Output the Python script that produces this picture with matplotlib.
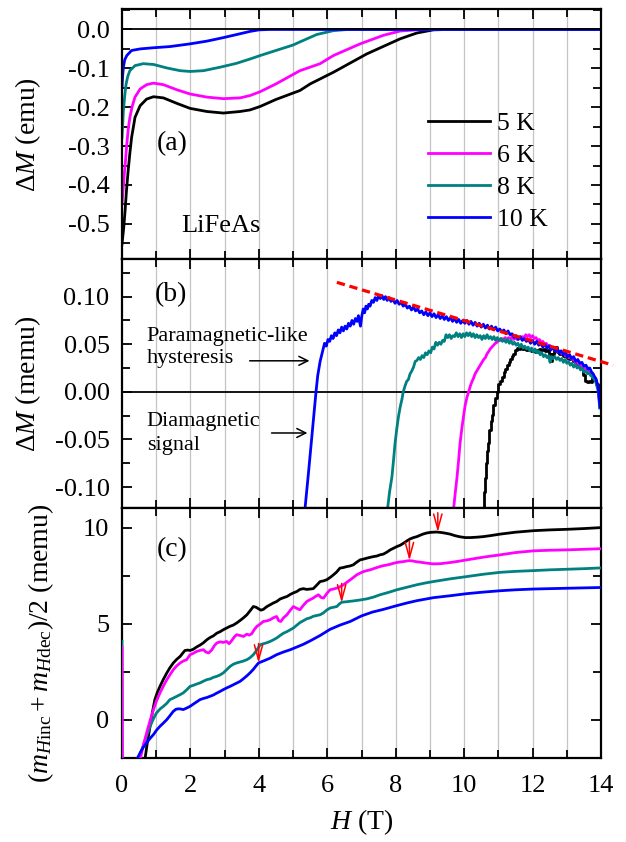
import matplotlib
matplotlib.use('Agg')
import matplotlib.pyplot as plt
from matplotlib.ticker import MultipleLocator

plt.rcParams['font.family'] = ['Liberation Serif', 'DejaVu Serif']
plt.rcParams['mathtext.fontset'] = 'custom'
plt.rcParams['mathtext.rm'] = 'Liberation Serif'
plt.rcParams['mathtext.it'] = 'Liberation Serif:italic'
plt.rcParams['mathtext.bf'] = 'Liberation Serif:bold'

# ---------------- data ----------------
temps = ['5 K', '6 K', '8 K', '10 K']
colors = ['#000000', '#FF00FF', '#008080', '#0000FF']

# panel (a): Delta M (emu) vs H (T)
H_a_5 = [0, 0.05, 0.09, 0.13, 0.18, 0.23, 0.28, 0.38, 0.53, 0.72, 0.92, 1.21, 1.6, 1.99, 2.48, 2.96,
         3.45, 3.74, 4.04, 4.5, 5.2, 5.5, 6.18, 7.15, 8.13, 8.62, 9.1, 9.5, 14]
M_a_5 = [-0.552, -0.51, -0.466, -0.415, -0.363, -0.318, -0.278, -0.226, -0.196, -0.179, -0.173, -0.176,
         -0.19, -0.203, -0.211, -0.215, -0.211, -0.207, -0.198, -0.18, -0.157, -0.14, -0.11, -0.063,
         -0.024, -0.009, -0.001, 0, 0]
H_a_6 = [0, 0.03, 0.06, 0.1, 0.14, 0.18, 0.23, 0.3, 0.38, 0.53, 0.72, 0.92, 1.21, 1.6, 1.99, 2.48, 2.96,
         3.45, 3.74, 4.04, 4.5, 5.2, 5.79, 6.18, 6.96, 7.64, 8.13, 8.6, 9.2, 14]
M_a_6 = [-0.449, -0.415, -0.38, -0.34, -0.295, -0.258, -0.226, -0.197, -0.174, -0.153, -0.142, -0.138,
         -0.142, -0.155, -0.166, -0.174, -0.178, -0.176, -0.170, -0.160, -0.14, -0.106, -0.088, -0.067,
         -0.037, -0.015, -0.004, -0.001, 0, 0]
H_a_8 = [0, 0.02, 0.04, 0.08, 0.12, 0.17, 0.23, 0.38, 0.62, 0.92, 1.31, 1.7, 1.99, 2.38, 2.87, 3.35,
         3.74, 4.04, 4.5, 5.0, 5.2, 5.69, 6.18, 6.6, 14]
M_a_8 = [-0.278, -0.245, -0.209, -0.17, -0.14, -0.12, -0.106, -0.093, -0.088, -0.09, -0.099, -0.106,
         -0.108, -0.106, -0.097, -0.087, -0.076, -0.067, -0.054, -0.040, -0.032, -0.013, -0.003, 0, 0]
H_a_10 = [0, 0.02, 0.04, 0.08, 0.14, 0.28, 0.53, 0.92, 1.4, 1.99, 2.48, 2.96, 3.45, 3.74, 4.0, 4.3, 14]
M_a_10 = [-0.149, -0.118, -0.097, -0.078, -0.067, -0.054, -0.05, -0.047, -0.044, -0.037, -0.030, -0.021,
          -0.011, -0.005, -0.001, 0, 0]

# panel (b): Delta M (memu) vs H (T), (H, M) pairs
b_10 = [(5.35,-0.122),(5.45,-0.085),(5.55,-0.046),(5.62,-0.019),(5.67,0.000),(5.72,0.017),(5.79,0.032),
        (5.86,0.042),(5.92,0.051),(5.97,0.048),(6.02,0.055),(6.07,0.053),(6.12,0.059),(6.17,0.056),
        (6.22,0.062),(6.27,0.059),(6.32,0.065),(6.37,0.062),(6.42,0.068),(6.47,0.064),(6.52,0.069),
        (6.57,0.066),(6.62,0.072),(6.67,0.069),(6.72,0.075),(6.77,0.071),(6.82,0.077),(6.87,0.074),
        (6.91,0.080),(6.94,0.074),(6.97,0.069),(7.01,0.080),(7.05,0.087),(7.09,0.083),(7.13,0.090),
        (7.17,0.087),(7.21,0.092),(7.25,0.090),(7.30,0.096),(7.35,0.094),(7.40,0.099),(7.45,0.096),
        (7.50,0.101),(7.55,0.098),(7.60,0.101),(7.65,0.097),(7.70,0.100),(7.75,0.096),(7.80,0.099),
        (7.86,0.095),(7.92,0.097),(7.98,0.093),(8.04,0.096),(8.10,0.092),(8.16,0.094),(8.22,0.090),
        (8.28,0.092),(8.34,0.088),(8.40,0.090),(8.46,0.086),(8.52,0.089),(8.58,0.085),(8.64,0.087),
        (8.70,0.083),(8.76,0.085),(8.82,0.081),(8.88,0.084),(8.94,0.080),(9.00,0.083),(9.06,0.079),
        (9.12,0.082),(9.18,0.078),(9.24,0.081),(9.30,0.077),(9.36,0.080),(9.42,0.076),(9.48,0.079),
        (9.54,0.075),(9.60,0.078),(9.66,0.074),(9.72,0.077),(9.78,0.073),(9.84,0.076),(9.90,0.072),
        (9.96,0.075),(10.02,0.072),(10.08,0.075),(10.14,0.071),(10.20,0.074),(10.26,0.070),(10.32,0.073),
        (10.38,0.069),(10.44,0.072),(10.50,0.068),(10.56,0.071),(10.62,0.067),(10.68,0.070),(10.74,0.066),
        (10.80,0.069),(10.86,0.065),(10.92,0.068),(10.98,0.064),(11.04,0.066),(11.10,0.063),(11.16,0.065),
        (11.22,0.061),(11.28,0.064),(11.34,0.060),(11.40,0.061),(11.46,0.057),(11.52,0.059),(11.58,0.055),
        (11.64,0.058),(11.70,0.054),(11.76,0.056),(11.82,0.053),(11.88,0.055),(11.94,0.051),(12.00,0.054),
        (12.06,0.050),(12.12,0.053),(12.18,0.049),(12.24,0.051),(12.30,0.047),(12.36,0.050),(12.42,0.046),
        (12.48,0.048),(12.54,0.044),(12.60,0.047),(12.66,0.043),(12.72,0.045),(12.78,0.041),(12.84,0.043),
        (12.90,0.039),(12.96,0.041),(13.02,0.037),(13.08,0.039),(13.14,0.035),(13.20,0.037),(13.26,0.032),
        (13.32,0.034),(13.38,0.030),(13.44,0.031),(13.50,0.027),(13.56,0.028),(13.62,0.024),(13.67,0.025),
        (13.72,0.021),(13.77,0.019),(13.81,0.016),(13.85,0.014),(13.88,0.010),(13.91,0.006),(13.93,0.001),
        (13.95,-0.008),(13.97,-0.016)]
b_8 = [(7.76,-0.123),(7.82,-0.105),(7.89,-0.089),(7.94,-0.070),(7.98,-0.054),(8.03,-0.039),(8.08,-0.026),
       (8.13,-0.016),(8.18,-0.008),(8.22,0.000),(8.27,0.006),(8.32,0.011),(8.37,0.013),(8.42,0.019),
       (8.47,0.022),(8.52,0.026),(8.57,0.032),(8.62,0.033),(8.67,0.036),(8.72,0.034),(8.77,0.038),
       (8.82,0.036),(8.87,0.041),(8.92,0.039),(8.97,0.043),(9.02,0.041),(9.07,0.047),(9.12,0.045),
       (9.17,0.052),(9.22,0.049),(9.27,0.052),(9.32,0.050),(9.37,0.054),(9.42,0.053),(9.47,0.060),
       (9.52,0.057),(9.57,0.060),(9.62,0.056),(9.67,0.059),(9.72,0.058),(9.77,0.062),(9.82,0.058),
       (9.87,0.061),(9.92,0.057),(9.97,0.061),(10.02,0.058),(10.07,0.062),(10.12,0.059),(10.17,0.062),
       (10.22,0.058),(10.27,0.061),(10.32,0.057),(10.37,0.060),(10.42,0.057),(10.47,0.059),(10.52,0.055),
       (10.57,0.059),(10.62,0.056),(10.67,0.060),(10.72,0.056),(10.77,0.058),(10.82,0.055),(10.87,0.058),
       (10.92,0.054),(10.97,0.057),(11.02,0.054),(11.07,0.056),(11.12,0.053),(11.17,0.055),(11.22,0.052),
       (11.27,0.055),(11.32,0.051),(11.37,0.054),(11.42,0.050),(11.47,0.052),(11.52,0.049),(11.57,0.051),
       (11.62,0.047),(11.67,0.050),(11.72,0.046),(11.77,0.048),(11.82,0.045),(11.87,0.047),(11.92,0.043),
       (11.97,0.046),(12.02,0.042),(12.07,0.045),(12.12,0.041),(12.17,0.043),(12.22,0.039),(12.27,0.041),
       (12.32,0.037),(12.37,0.039),(12.42,0.036),(12.47,0.038),(12.51,0.031),(12.55,0.037),(12.60,0.035),
       (12.65,0.037),(12.70,0.034),(12.75,0.036),(12.80,0.033),(12.85,0.035),(12.90,0.031),(12.95,0.034),
       (13.00,0.030),(13.05,0.032),(13.10,0.028),(13.15,0.030),(13.20,0.026),(13.25,0.029),(13.30,0.025),
       (13.35,0.027),(13.40,0.023),(13.45,0.025),(13.50,0.021),(13.55,0.022),(13.60,0.019),(13.65,0.020),
       (13.70,0.017),(13.75,0.016),(13.80,0.013),(13.84,0.011),(13.88,0.006),(13.91,0.002),(13.94,-0.007),
       (13.96,-0.017)]
b_6 = [(9.69,-0.123),(9.74,-0.106),(9.79,-0.090),(9.84,-0.071),(9.88,-0.054),(9.93,-0.039),(9.98,-0.026),
       (10.03,-0.014),(10.08,-0.006),(10.13,0.000),(10.18,0.006),(10.23,0.011),(10.27,0.014),(10.32,0.019),
       (10.37,0.022),(10.42,0.025),(10.47,0.028),(10.52,0.031),(10.57,0.034),(10.62,0.036),(10.67,0.040),
       (10.71,0.042),(10.76,0.045),(10.81,0.047),(10.86,0.049),(10.91,0.051),(10.96,0.052),(11.01,0.054),
       (11.05,0.054),(11.10,0.056),(11.15,0.055),(11.20,0.057),(11.25,0.055),(11.30,0.057),(11.35,0.056),
       (11.40,0.058),(11.45,0.055),(11.50,0.057),(11.55,0.055),(11.60,0.057),(11.65,0.056),(11.70,0.058),
       (11.75,0.057),(11.80,0.060),(11.85,0.058),(11.90,0.060),(11.95,0.057),(12.00,0.059),(12.05,0.056),
       (12.10,0.057),(12.15,0.054),(12.20,0.055),(12.25,0.052),(12.30,0.053),(12.35,0.050),(12.40,0.051),
       (12.45,0.048),(12.50,0.049),(12.55,0.046),(12.60,0.047),(12.65,0.044),(12.70,0.045),(12.75,0.042),
       (12.80,0.043),(12.85,0.040),(12.90,0.041),(12.95,0.038),(13.00,0.039),(13.05,0.036),(13.10,0.037),
       (13.15,0.034),(13.20,0.035),(13.25,0.031),(13.30,0.032),(13.35,0.029),(13.40,0.029),(13.45,0.026),
       (13.50,0.026),(13.55,0.023),(13.60,0.023),(13.65,0.020),(13.70,0.019),(13.75,0.017),(13.80,0.015),
       (13.85,0.012),(13.88,0.009),(13.91,0.004),(13.93,-0.003),(13.95,-0.010)]
b_5 = [(10.55,-0.123),(10.58,-0.105),(10.61,-0.090),(10.64,-0.075),(10.67,-0.062),(10.71,-0.054),
       (10.74,-0.040),(10.78,-0.031),(10.81,-0.024),(10.85,-0.014),(10.90,-0.006),(10.95,0.000),
       (11.00,0.008),(11.05,0.011),(11.10,0.016),(11.15,0.021),(11.20,0.024),(11.25,0.028),(11.30,0.031),
       (11.35,0.035),(11.40,0.038),(11.44,0.040),(11.50,0.044),(11.55,0.046),(11.60,0.045),(11.64,0.047),
       (11.70,0.045),(11.76,0.046),(11.82,0.044),(11.88,0.045),(11.94,0.043),(12.00,0.044),(12.06,0.042),
       (12.12,0.044),(12.18,0.045),(12.24,0.044),(12.30,0.045),(12.36,0.043),(12.42,0.044),(12.48,0.040),
       (12.54,0.032),(12.58,0.040),(12.64,0.047),(12.70,0.042),(12.76,0.040),(12.82,0.041),(12.88,0.038),
       (12.94,0.039),(13.00,0.036),(13.06,0.035),(13.12,0.034),(13.18,0.032),(13.24,0.031),(13.30,0.029),
       (13.36,0.027),(13.42,0.025),(13.48,0.018),(13.52,0.011),(13.58,0.010),(13.64,0.011),(13.70,0.010),
       (13.75,0.015),(13.80,0.012),(13.85,0.008),(13.90,0.004),(13.93,-0.004),(13.95,-0.012)]
dash_H = [6.28, 14.35]
dash_M = [0.115, 0.028]

# panel (c): (m_Hinc + m_Hdec)/2 (memu) vs H (T), (H, m) pairs
c_5 = [(0.62,-3.0),(0.67,-2.08),(0.74,-1.2),(0.82,-0.35),(0.89,0.40),(0.96,1.04),(1.03,1.40),(1.11,1.73),
       (1.21,2.10),(1.31,2.43),(1.40,2.70),(1.50,2.95),(1.60,3.14),(1.70,3.29),(1.77,3.45),(1.84,3.60),
       (1.92,3.62),(1.99,3.60),(2.08,3.66),(2.18,3.78),(2.28,3.88),(2.38,4.00),(2.48,4.16),(2.58,4.28),
       (2.67,4.36),(2.77,4.50),(2.87,4.58),(2.96,4.68),(3.06,4.77),(3.16,4.86),(3.25,4.92),(3.35,5.03),
       (3.45,5.16),(3.55,5.30),(3.65,5.46),(3.74,5.66),(3.84,5.89),(3.92,5.85),(4.00,5.76),(4.06,5.70),
       (4.13,5.74),(4.23,5.88),(4.33,5.98),(4.42,6.07),(4.52,6.15),(4.62,6.28),(4.72,6.35),(4.82,6.41),
       (4.92,6.52),(5.01,6.60),(5.11,6.67),(5.20,6.78),(5.30,6.82),(5.40,6.78),(5.50,6.80),(5.59,6.82),
       (5.69,7.00),(5.79,7.19),(5.88,7.22),(5.98,7.28),(6.08,7.40),(6.18,7.54),(6.27,7.68),(6.37,7.89),
       (6.47,7.92),(6.57,7.97),(6.66,8.00),(6.76,8.06),(6.86,8.20),(6.96,8.32),(7.06,8.36),(7.16,8.41),
       (7.25,8.45),(7.35,8.49),(7.45,8.52),(7.54,8.58),(7.64,8.62),(7.74,8.72),(7.84,8.84),(7.93,8.92),
       (8.03,9.01),(8.13,9.08),(8.23,9.19),(8.32,9.30),(8.42,9.41),(8.52,9.48),(8.62,9.53),(8.71,9.60),
       (8.81,9.67),(8.91,9.72),(9.01,9.75),(9.10,9.76),(9.20,9.77),(9.25,9.76),(9.35,9.74),(9.45,9.71),
       (9.59,9.66),(9.73,9.58),(9.88,9.52),(10.03,9.48),(10.18,9.48),(10.37,9.50),(10.56,9.53),(10.80,9.59),
       (11.05,9.66),(11.5,9.76),(12.03,9.84),(12.5,9.88),(13.0,9.91),(13.5,9.95),(14.0,10.0)]
c_6 = [(0.0,3.75),(0.01,-4.0),(0.45,-3.0),(0.53,-2.08),(0.62,-1.35),(0.72,-0.69),(0.82,-0.05),(0.92,0.52),
       (1.01,0.98),(1.11,1.39),(1.21,1.75),(1.31,2.08),(1.40,2.33),(1.50,2.60),(1.60,2.80),(1.70,2.95),
       (1.79,3.05),(1.89,3.12),(1.99,3.38),(2.08,3.45),(2.18,3.55),(2.28,3.60),(2.38,3.64),(2.45,3.52),
       (2.53,3.47),(2.62,3.62),(2.70,3.85),(2.77,3.99),(2.87,4.05),(2.96,4.02),(3.06,4.07),(3.13,3.95),
       (3.20,4.10),(3.28,4.30),(3.35,4.42),(3.45,4.38),(3.55,4.33),(3.65,4.45),(3.72,4.40),(3.79,4.47),
       (3.87,4.70),(3.94,4.85),(4.04,4.98),(4.13,5.11),(4.23,5.14),(4.33,5.20),(4.42,5.30),(4.52,5.37),
       (4.58,5.15),(4.64,5.11),(4.72,5.30),(4.82,5.46),(4.92,5.70),(5.01,5.89),(5.10,5.80),(5.20,5.72),
       (5.30,5.95),(5.40,6.15),(5.50,6.25),(5.59,6.33),(5.66,6.42),(5.74,6.50),(5.82,6.36),(5.89,6.33),
       (5.98,6.55),(6.08,6.76),(6.18,6.80),(6.28,6.85),(6.37,6.92),(6.47,7.02),(6.57,7.15),(6.67,7.28),
       (6.76,7.40),(6.86,7.54),(6.96,7.63),(7.06,7.71),(7.16,7.76),(7.25,7.80),(7.35,7.86),(7.45,7.92),
       (7.54,7.97),(7.64,8.02),(7.74,8.05),(7.84,8.09),(7.93,8.14),(8.03,8.18),(8.13,8.21),(8.23,8.23),
       (8.32,8.26),(8.40,8.28),(8.50,8.26),(8.61,8.22),(8.71,8.20),(8.90,8.15),(9.10,8.11),(9.30,8.12),
       (9.59,8.18),(9.85,8.25),(10.08,8.32),(10.32,8.39),(10.56,8.46),(10.80,8.52),(11.05,8.58),(11.5,8.70),
       (12.03,8.79),(12.5,8.82),(13.0,8.84),(13.5,8.87),(14.0,8.90)]
c_8 = [(0.0,4.07),(0.01,-4.0),(0.40,-3.0),(0.48,-2.08),(0.55,-1.70),(0.62,-1.39),(0.72,-0.85),(0.82,-0.35),
       (0.92,0.05),(1.01,0.35),(1.11,0.55),(1.21,0.69),(1.31,0.85),(1.40,1.04),(1.50,1.12),(1.60,1.21),
       (1.70,1.30),(1.79,1.39),(1.89,1.55),(1.99,1.73),(2.08,1.78),(2.18,1.85),(2.28,1.91),(2.38,2.00),
       (2.48,2.08),(2.58,2.12),(2.67,2.20),(2.77,2.25),(2.87,2.33),(2.96,2.43),(3.06,2.60),(3.16,2.77),
       (3.25,2.88),(3.35,2.95),(3.45,3.00),(3.55,3.05),(3.65,3.12),(3.74,3.22),(3.84,3.38),(3.94,3.62),
       (4.04,3.90),(4.13,3.95),(4.23,4.00),(4.33,4.07),(4.42,4.15),(4.52,4.25),(4.62,4.38),(4.72,4.50),
       (4.82,4.58),(4.92,4.68),(5.01,4.77),(5.11,4.92),(5.20,5.05),(5.30,5.15),(5.40,5.25),(5.50,5.30),
       (5.59,5.38),(5.69,5.42),(5.79,5.46),(5.88,5.55),(5.98,5.70),(6.08,5.81),(6.18,5.85),(6.28,5.89),
       (6.35,6.02),(6.42,6.11),(6.57,6.14),(6.76,6.18),(6.96,6.23),(7.16,6.29),(7.35,6.38),(7.54,6.50),
       (7.80,6.63),(8.03,6.76),(8.32,6.89),(8.61,7.02),(8.85,7.11),(9.10,7.19),(9.59,7.33),(10.08,7.45),
       (10.56,7.57),(11.05,7.67),(11.5,7.72),(12.03,7.76),(12.5,7.80),(13.0,7.83),(13.5,7.86),(14.0,7.90)]
c_10 = [(0.35,-3.0),(0.43,-2.08),(0.53,-1.73),(0.62,-1.45),(0.72,-1.21),(0.82,-0.98),(0.92,-0.78),
        (1.01,-0.55),(1.11,-0.35),(1.21,-0.18),(1.31,0.0),(1.40,0.20),(1.50,0.43),(1.58,0.54),(1.65,0.56),
        (1.72,0.55),(1.79,0.52),(1.89,0.60),(1.99,0.69),(2.08,0.80),(2.18,0.92),(2.28,1.04),(2.38,1.10),
        (2.48,1.15),(2.57,1.21),(2.67,1.28),(2.77,1.38),(2.87,1.47),(2.96,1.56),(3.06,1.65),(3.16,1.73),
        (3.25,1.81),(3.35,1.90),(3.45,1.99),(3.55,2.13),(3.65,2.28),(3.74,2.43),(3.84,2.62),(3.92,2.80),
        (3.99,2.95),(4.13,3.05),(4.33,3.20),(4.52,3.38),(4.72,3.52),(4.92,3.64),(5.11,3.78),(5.30,3.92),
        (5.50,4.10),(5.79,4.38),(6.08,4.70),(6.37,4.92),(6.67,5.11),(7.0,5.40),(7.32,5.60),(7.64,5.74),
        (8.0,5.92),(8.32,6.07),(8.61,6.19),(9.10,6.35),(9.59,6.45),(10.08,6.56),(10.56,6.64),(11.05,6.71),
        (11.5,6.76),(12.03,6.80),(12.5,6.82),(13.0,6.84),(13.5,6.86),(14.0,6.88)]
arrow_H = [3.99, 6.42, 8.40, 9.23]
arrow_m = [2.95, 6.08, 8.28, 9.76]

# ---------------- figure ----------------
fig = plt.figure(figsize=(6.26, 8.42), dpi=100)
L, W, Hh = 0.1949, 0.7652, 0.2964
ax_a = fig.add_axes([L, 0.6926, W, Hh])
ax_b = fig.add_axes([L, 0.3962, W, Hh])
ax_c = fig.add_axes([L, 0.0998, W, Hh])

TFS = 19     # tick labels
LFS = 20     # axis labels
lw = 2.0
for ax in (ax_a, ax_b, ax_c):
    ax.set_xlim(0, 14)
    ax.xaxis.set_major_locator(MultipleLocator(2))
    ax.xaxis.set_minor_locator(MultipleLocator(1))
    for xg in range(1, 14):
        ax.axvline(xg, color='#c4c4c4', lw=0.9, zorder=0)
    ax.tick_params(which='both', direction='in', top=True, right=True, width=1.3,
                   labelsize=TFS)
    ax.tick_params(axis='y', which='both', pad=9)
    ax.tick_params(axis='x', which='both', pad=12)
    ax.tick_params(which='major', length=7)
    ax.tick_params(which='minor', length=6)
    for s in ax.spines.values():
        s.set_linewidth(1.6)

# (a)
for Hs, Ms, c, lab in zip([H_a_5, H_a_6, H_a_8, H_a_10], [M_a_5, M_a_6, M_a_8, M_a_10], colors, temps):
    ax_a.plot(Hs, Ms, color=c, lw=lw, label=lab, zorder=2)
ax_a.axhline(0, color='black', lw=1.3, zorder=3)
ax_a.set_ylim(-0.59, 0.052)
ax_a.yaxis.set_minor_locator(MultipleLocator(0.05))
ax_a.set_yticks([0.0, -0.1, -0.2, -0.3, -0.4, -0.5])
ax_a.set_yticklabels(['0.0', '-0.1', '-0.2', '-0.3', '-0.4', '-0.5'])
ax_a.tick_params(labelbottom=False)
ax_a.set_ylabel('Δ$M$ (emu)', fontsize=LFS)
ax_a.yaxis.set_label_coords(-0.165, 0.5)
ax_a.text(0.073, 0.462, '(a)', transform=ax_a.transAxes, fontsize=20, ha='left', va='center')
ax_a.text(0.123, 0.133, 'LiFeAs', transform=ax_a.transAxes, fontsize=19, ha='left', va='center')
ax_a.legend(loc='center left', bbox_to_anchor=(0.639, 0.351), frameon=False, fontsize=18.5,
            handlelength=2.4, handletextpad=0.27, labelspacing=0.35, borderpad=0, borderaxespad=0)

# (b)
for data, c in zip([b_5, b_6, b_8, b_10], colors):
    hs = [p[0] for p in data]
    ms = [p[1] for p in data]
    ds = 'steps-post' if c == '#000000' else 'default'
    ax_b.plot(hs, ms, color=c, lw=lw, drawstyle=ds, zorder=2)
ax_b.axhline(0, color='black', lw=1.3, zorder=1)
ax_b.plot(dash_H, dash_M, color='#FF0000', lw=2.3, dashes=(2.6, 1.5), clip_on=False, zorder=4)
ax_b.set_ylim(-0.1224, 0.1397)
ax_b.yaxis.set_minor_locator(MultipleLocator(0.025))
ax_b.set_yticks([-0.10, -0.05, 0.00, 0.05, 0.10])
ax_b.set_yticklabels(['-0.10', '-0.05', '0.00', '0.05', '0.10'])
ax_b.tick_params(labelbottom=False)
ax_b.set_ylabel('Δ$M$ (memu)', fontsize=LFS)
ax_b.yaxis.set_label_coords(-0.165, 0.5)
ax_b.text(0.069, 0.855, '(b)', transform=ax_b.transAxes, fontsize=20, ha='left', va='center')
ax_b.text(0.72, 0.0465, 'Paramagnetic-like\nhysteresis', fontsize=16, ha='left', va='center',
          linespacing=1.2)
ax_b.text(0.72, -0.0438, 'Diamagnetic\nsignal', fontsize=16, ha='left', va='center', linespacing=1.3)
ax_b.annotate('', xy=(5.56, 0.0326), xytext=(3.65, 0.0326),
              arrowprops=dict(arrowstyle='->', lw=1.1, color='black', mutation_scale=16))
ax_b.annotate('', xy=(5.50, -0.0432), xytext=(4.29, -0.0432),
              arrowprops=dict(arrowstyle='->', lw=1.1, color='black', mutation_scale=16))

# (c)
for data, c in zip([c_5, c_8, c_6, c_10], [colors[0], colors[2], colors[1], colors[3]]):
    hs = [p[0] for p in data]
    ms = [p[1] for p in data]
    ax_c.plot(hs, ms, color=c, lw=lw, zorder=3)
ax_c.set_ylim(-2, 11)
ax_c.yaxis.set_major_locator(MultipleLocator(5))
ax_c.yaxis.set_minor_locator(MultipleLocator(2.5))
for xh, ym in zip(arrow_H, arrow_m):
    ax_c.annotate('', xy=(xh, ym), xytext=(0, 14), textcoords='offset points',
                  arrowprops=dict(arrowstyle='->,head_length=1.1,head_width=0.3', lw=1.1,
                                  color='#FF0000', mutation_scale=10, shrinkA=0, shrinkB=0),
                  zorder=5)
ax_c.set_ylabel(r'$(m_{H\mathrm{inc}}+m_{H\mathrm{dec}})/2$ (memu)', fontsize=LFS)
ax_c.yaxis.set_label_coords(-0.138, 0.458)
ax_c.set_xlabel('$H$ (T)', fontsize=LFS, labelpad=8)
ax_c.text(0.073, 0.835, '(c)', transform=ax_c.transAxes, fontsize=20, ha='left', va='center')

fig.savefig('out.png', dpi=100)
